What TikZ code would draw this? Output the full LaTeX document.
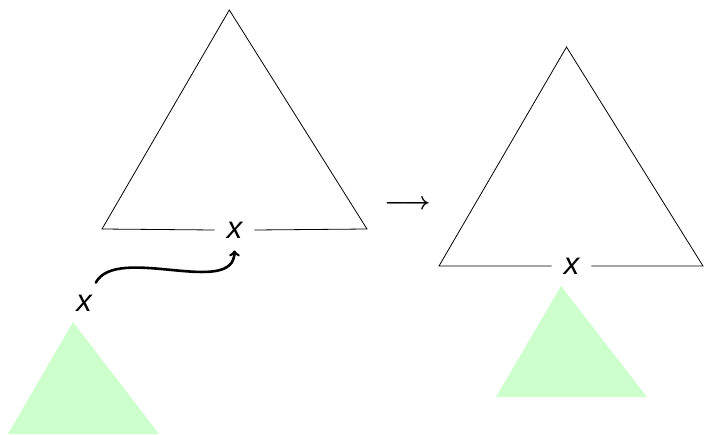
\documentclass[tikz,border=0pt]{standalone}
\usepackage{fontspec}
\newfontfamily\labfont{Liberation Sans}
\usetikzlibrary{calc}
\definecolor{lightgreen}{HTML}{CCFFCC}
\begin{document}
\begin{tikzpicture}[x=1pt,y=-1pt,
  lab/.style={inner sep=12pt,font=\labfont\itshape\fontsize{31}{36}\selectfont},
  tri/.style={line width=0.8pt,line join=miter},
  subtree/.style={fill=lightgreen},
  move/.style={line width=2.6pt,->,line cap=round},
  bigarrow/.style={font={\fontsize{25.5}{30}\selectfont\boldmath}}]
\useasboundingbox (0,0) rectangle (704,434);
% left big triangle
\coordinate (LA) at (229.3,10);
\coordinate (LL) at (102,229);
\coordinate (LR) at (367,229);
\node[lab] (xt) at (234.5,230) {x};
\draw[tri] (xt.west) -- (LL) -- (LA) -- (LR) -- (xt.east);
% right big triangle
\coordinate (RA) at (566.5,47);
\coordinate (RL) at (439,266);
\coordinate (RR) at (703,266);
\node[lab] (xr) at (571.5,266) {x};
\draw[tri] (xr.west) -- (RL) -- (RA) -- (RR) -- (xr.east);
% green subtrees
\path[subtree] (73,322) -- (8,434) -- (159,434) -- cycle;
\path[subtree] (561,286) -- (496,397) -- (647,397) -- cycle;
% detached x
\node[lab] (xl) at (84,303) {x};
% move arrow
\draw[move] (xl.60) .. controls +(21,-39) and +(0,48) .. (xt.south);
% transformation arrow
\node[bigarrow] (arr) at (407.5,205) {$\longrightarrow$};
\end{tikzpicture}
\end{document}
